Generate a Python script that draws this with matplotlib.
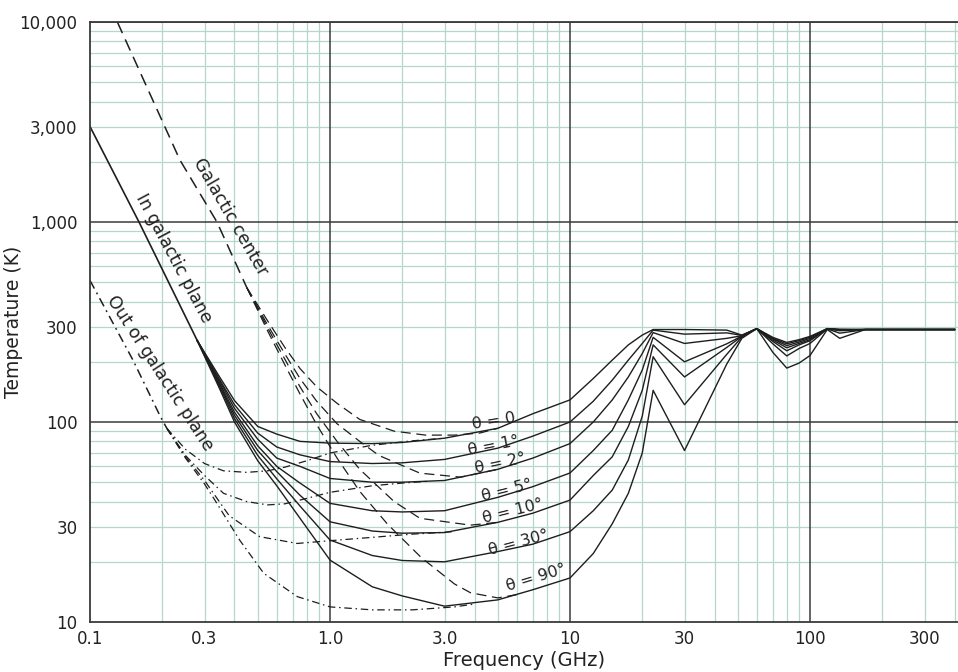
import numpy as np
import matplotlib
matplotlib.use("Agg")
import matplotlib.pyplot as plt

# ---------------- data ----------------
# shared steep sections of the three families
plane_f = [0.1, 0.16, 0.28]
plane_T = [3000, 1000, 255]
center_f = [0.13, 0.237, 0.338, 0.45]
center_T = [10000, 2040, 1000, 470]
out_f = [0.1, 0.151, 0.196, 0.209]
out_T = [510, 204, 107, 93]

theta_names = ["θ = 0", "θ = 1°", "θ = 2°", "θ = 5°", "θ = 10°", "θ = 30°", "θ = 90°"]

# solid curves: in galactic plane, elevation theta
solid_f = [0.28, 0.35, 0.4, 0.5, 0.6, 0.75, 1.0, 1.5, 2, 3, 5, 7,
           10, 12.5, 15, 17.5, 20, 22.2, 30, 45, 52, 60, 70, 80, 90, 100, 118, 133, 170, 400]
T_th0 = [255, 165, 128, 95, 87, 80, 78.4, 78, 79, 83, 93, 110,
         129, 165, 204, 243, 272, 290, 290, 288, 272, 293, 265, 250, 258, 268, 293, 291, 290, 290]
T_th1 = [255, 160, 122, 88, 75, 68.5, 63.4, 62, 62.5, 65, 74, 85,
         100, 127, 162, 204, 247, 288, 275, 279, 271, 293, 262, 246, 255, 265, 293, 290, 290, 290]
T_th2 = [255, 157, 117, 82, 66, 60, 52.2, 50, 50, 51, 58, 66,
         78, 100, 129, 168, 220, 280, 247, 262, 270, 293, 260, 241, 251, 262, 293, 289, 290, 290]
T_th5 = [255, 153, 112, 76, 60, 49.5, 39.2, 36, 35.5, 36, 42, 47.5,
         55.6, 72, 91, 129, 182, 265, 200, 246, 269, 293, 257, 235, 247, 258, 293, 288, 290, 290]
T_th10 = [255, 150, 108, 72, 56.5, 43, 31.7, 28.5, 27.8, 28, 31.5, 35,
          40.7, 54, 67, 95, 144, 243, 168, 236, 268, 293, 253, 227, 243, 255, 292, 286, 290, 290]
T_th30 = [255, 147, 104, 68, 52, 38, 25.7, 21.5, 20.3, 20, 22.5, 24.5,
          28.3, 36, 45.7, 64.6, 107, 212, 122, 218, 266, 293, 246, 214, 233, 247, 292, 278, 290, 290]
T_th90 = [255, 143, 100, 64, 48, 33, 20.4, 15, 13.5, 12, 12.9, 14.5,
          16.6, 22, 31, 44, 70, 144, 72, 195, 262, 293, 223, 186, 197, 215, 290, 262, 290, 290]

# dashed curves: galactic center
gc0_f = [0.45, 0.55, 0.65, 0.75, 0.88, 1.07, 1.33, 1.85, 2.5, 3.3, 4.2, 5]
gc0_T = [470, 320, 235, 185, 150, 124, 103, 90, 86, 86, 88, 93]
gc2_f = [0.45, 0.55, 0.65, 0.75, 0.88, 1.07, 1.33, 1.6, 2.37, 3.5, 5]
gc2_T = [470, 305, 218, 165, 127, 98, 80, 68, 55.5, 53, 58]
gc10_f = [0.45, 0.55, 0.65, 0.75, 0.88, 1.07, 1.33, 1.85, 2.37, 3.85, 5]
gc10_T = [470, 295, 205, 150, 110, 80, 58, 40, 33, 30.5, 31.5]
gc90_f = [0.45, 0.55, 0.65, 0.75, 0.88, 1.07, 1.33, 1.73, 2.4, 3.3, 3.85, 5, 6]
gc90_T = [470, 285, 192, 138, 97, 66, 45, 31, 21, 15.5, 14, 13.2, 13.7]

# dash-dot curves: out of galactic plane
og0_f = [0.209, 0.25, 0.3, 0.36, 0.45, 0.55, 0.65, 0.8, 1.0, 1.5, 2.2, 3.0]
og0_T = [93, 73, 62, 57, 56, 57, 59.5, 64, 70, 76.5, 80.5, 83]
og2_f = [0.209, 0.25, 0.3, 0.36, 0.45, 0.55, 0.65, 0.8, 1.0, 1.5, 2.0, 2.6]
og2_T = [93, 68, 54, 44, 40, 38.5, 39, 41.5, 44.5, 48, 49.5, 50.6]
og10_f = [0.209, 0.25, 0.3, 0.38, 0.51, 0.73, 1.0, 1.5, 2.2, 3.3]
og10_T = [93, 67, 51, 34, 26.7, 24.7, 25.5, 26.5, 27.5, 28.3]
og90_f = [0.209, 0.25, 0.3, 0.33, 0.42, 0.53, 0.73, 1.0, 1.5, 2.2, 3.3, 4.0]
og90_T = [93, 66, 49, 41, 25.7, 17.5, 13.4, 11.9, 11.5, 11.5, 11.9, 12.3]

x_ticks = [0.1, 0.3, 1.0, 3.0, 10, 30, 100, 300]
x_ticklabels = ["0.1", "0.3", "1.0", "3.0", "10", "30", "100", "300"]
y_ticks = [10, 30, 100, 300, 1000, 3000, 10000]
y_ticklabels = ["10", "30", "100", "300", "1,000", "3,000", "10,000"]

# ---------------- figure ----------------
plt.rcParams["font.family"] = ["DejaVu Sans"]
W, H = 958, 672
fig = plt.figure(figsize=(W / 100, H / 100), dpi=100)
ax = fig.add_axes([90 / W, 1 - 622 / H, 1 - 90 / W, 600 / H])
ax.set_xscale("log")
ax.set_yscale("log")
XMAX = 413.6
ax.set_xlim(0.1, XMAX)
ax.set_ylim(10, 10000)

minor_c = "#b4d6cd"
major_c = "#3a3a3a"
for dec in [0.1, 1, 10, 100]:
    for m in range(2, 10):
        v = dec * m
        if v < XMAX:
            ax.axvline(v, color=minor_c, lw=0.9, zorder=0)
for dec in [10, 100, 1000]:
    for m in range(2, 10):
        ax.axhline(dec * m, color=minor_c, lw=0.9, zorder=0)
for v in [1, 10, 100]:
    ax.axvline(v, color=major_c, lw=1.1, zorder=0.5)
for v in [100, 1000, 10000]:
    ax.axhline(v, color=major_c, lw=1.1, zorder=0.5)

lc = "#1e1e1e"
# solid family
ax.plot(plane_f, plane_T, color=lc, lw=1.2)
for T in [T_th0, T_th1, T_th2, T_th5, T_th10, T_th30, T_th90]:
    ax.plot(solid_f, T, color=lc, lw=1.0)

# dashed family
dash = (0, (8, 4.5))
ax.plot(center_f, center_T, color=lc, lw=1.1, linestyle=dash)
for f, T in [(gc0_f, gc0_T), (gc2_f, gc2_T), (gc10_f, gc10_T), (gc90_f, gc90_T)]:
    ax.plot(f, T, color=lc, lw=0.9, linestyle=dash)

# dash-dot family
dd = (0, (6, 3, 1.2, 3))
ax.plot(out_f, out_T, color=lc, lw=1.1, linestyle=dd)
for f, T in [(og0_f, og0_T), (og2_f, og2_T), (og10_f, og10_T), (og90_f, og90_T)]:
    ax.plot(f, T, color=lc, lw=0.9, linestyle=dd)

# ---------------- axes styling ----------------
ax.set_xticks(x_ticks)
ax.set_xticklabels(x_ticklabels)
ax.set_yticks(y_ticks)
ax.set_yticklabels(y_ticklabels)
ax.minorticks_off()
ax.tick_params(axis="both", length=0, labelsize=12, colors="#222222")
ax.tick_params(axis="x", pad=6)
ax.tick_params(axis="y", pad=9)
for s in ["left", "bottom", "top"]:
    ax.spines[s].set_color(major_c)
    ax.spines[s].set_linewidth(1.3)
ax.spines["right"].set_visible(False)

ax.set_xlabel("Frequency (GHz)", fontsize=14, labelpad=2, color="#222222")
ax.set_ylabel("Temperature (K)", fontsize=13.5, color="#222222")
ax.yaxis.set_label_coords(-0.077, 0.5)

# ---------------- curve labels ----------------
tkw = dict(ha="center", va="center", rotation_mode="anchor", color="#222222")
ax.text(0.385, 1060, "Galactic center", fontsize=12.5, rotation=-60, **tkw)
ax.text(0.223, 660, "In galactic plane", fontsize=12.5, rotation=-62, **tkw)
ax.text(0.196, 176, "Out of galactic plane", fontsize=12.5, rotation=-57, **tkw)

label_pos = [(4.82, 101, 9), (4.82, 76, 11), (5.11, 62, 12), (5.46, 45.7, 14),
             (5.79, 35.9, 14), (6.13, 24.8, 15), (7.21, 16.6, 17)]
for name, (fx, ty, rot) in zip(theta_names, label_pos):
    ax.text(fx, ty, name, fontsize=11.5, rotation=rot, **tkw)

fig.savefig("out.png", dpi=100)
